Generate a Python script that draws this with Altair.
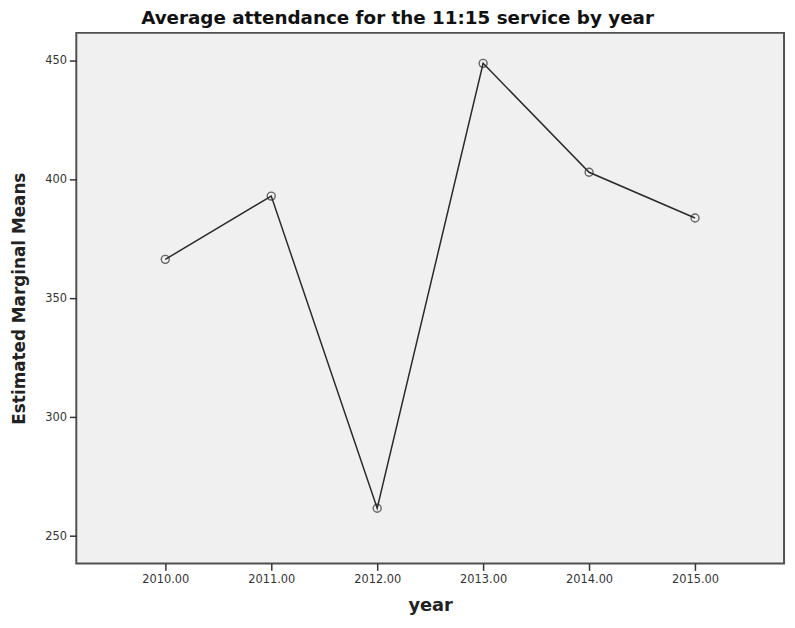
import altair as alt
import pandas as pd

years = [2010, 2011, 2012, 2013, 2014, 2015]
means = [366.3, 392.9, 261.7, 448.7, 402.9, 383.7]

df = pd.DataFrame({"year": years, "mean": means})

x = alt.X("year:Q",
          scale=alt.Scale(domain=[2009.16, 2015.84], nice=False, zero=False),
          axis=alt.Axis(title="year", values=years, format=".2f",
                        labelFont="DejaVu Sans", labelFontSize=11.5, labelColor="#333",
                        titleFont="DejaVu Sans", titleFontSize=18, titleFontWeight="bold",
                        titleColor="#222", titlePadding=12,
                        tickSize=7, tickColor="#333", tickWidth=1.5,
                        domain=False, grid=False, labelPadding=3))
y = alt.Y("mean:Q",
          scale=alt.Scale(domain=[238.5, 461.5], nice=False, zero=False),
          axis=alt.Axis(title="Estimated Marginal Means", values=[250, 300, 350, 400, 450],
                        labelFont="DejaVu Sans", labelFontSize=11.5, labelColor="#333",
                        titleFont="DejaVu Sans", titleFontSize=17, titleFontWeight="bold",
                        titleColor="#222", titlePadding=16,
                        tickSize=7, tickColor="#333", tickWidth=1.5,
                        domain=False, grid=False, labelPadding=3))

line = alt.Chart(df).mark_line(color="#2a2a2a", strokeWidth=1.5).encode(x=x, y=y)
pts = alt.Chart(df).mark_point(shape="circle", filled=False, color="#2a2a2a",
                               size=65, strokeWidth=1.4).encode(x=x, y=y)

chart = (line + pts).properties(
    width=715, height=536,
    autosize=alt.AutoSizeParams(type="none"),
    padding={"left": 69, "top": 22, "right": 3, "bottom": 50},
    background="white",
    title=alt.TitleParams("Average attendance for the 11:15 service by year",
                          font="DejaVu Sans", fontSize=18.5, fontWeight="bold",
                          color="#111", anchor="middle", frame="bounds", offset=5),
).configure_view(fill="#f0f0f0", stroke="#505050", strokeWidth=2)

chart.save("out.html", embed_options={"renderer": "svg", "actions": False})
